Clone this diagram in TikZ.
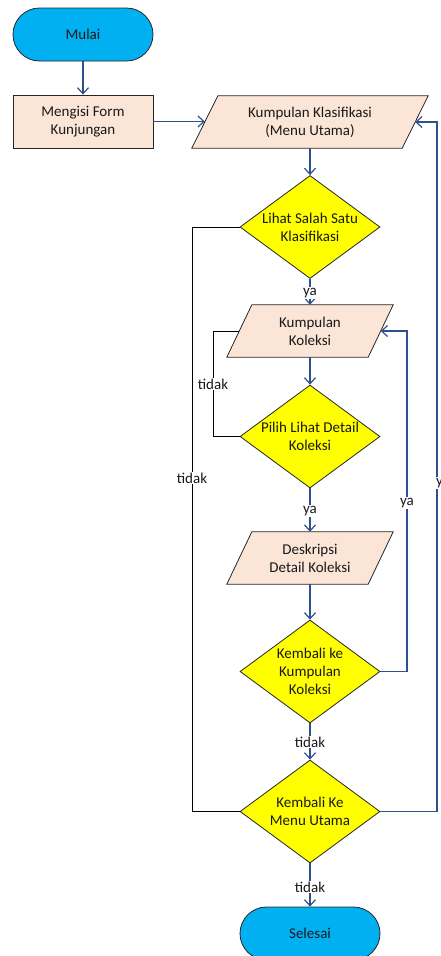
\documentclass[tikz,border=0pt]{standalone}
\usepackage{fontspec}
\setmainfont{Carlito}
\usetikzlibrary{arrows.meta,shapes.geometric,calc,backgrounds}
\definecolor{cyanfill}{HTML}{00B0F0}
\definecolor{peach}{HTML}{FBE5D6}
\definecolor{dyellow}{HTML}{FFFF00}
\definecolor{conncol}{HTML}{2F528F}
\definecolor{edgecol}{HTML}{262626}
\begin{document}
\begin{tikzpicture}[x=1pt,y=-1pt,
  every node/.style={font=\fontsize{15}{18}\selectfont, text=black!90},
  term/.style={rectangle, rounded corners=26.5pt, draw=edgecol, line width=0.8pt, fill=cyanfill, minimum width=140pt, minimum height=53pt, inner sep=0},
  proc/.style={rectangle, draw=edgecol, line width=0.8pt, fill=peach, minimum width=140pt, minimum height=53pt, align=center, inner sep=0},
  pgbox/.style={rectangle, minimum width=#1, minimum height=52pt, inner sep=0, align=center},
  pgshape/.style={draw=edgecol, line width=0.8pt, fill=peach},
  dec/.style={diamond, draw=edgecol, line width=0.8pt, fill=dyellow, minimum width=140pt, minimum height=103pt, inner sep=0},
  dtext/.style={align=center, inner sep=0},
  conn/.style={draw=conncol, line width=1.2pt, -{Straight Barb[length=6pt,width=11pt]}},
  noline/.style={draw=black, line width=1pt},
  lbl/.style={fill=white, inner sep=1pt}
]
\useasboundingbox (0,0) rectangle (441,956);

% shapes
\node[term] (start) at (83,34.5) {Mulai};
\node[proc] (form) at (83,121.5) {Mengisi Form\\Kunjungan};
\node[pgbox=210pt] (p1) at (310,122) {Kumpulan Klasifikasi\\(Menu Utama)};
\node[dec] (d1) at (310,227) {};
\node[dtext] (d1t) at (310,227) {Lihat Salah Satu\\Klasifikasi};
\node[pgbox=141pt] (p2) at (310,331) {Kumpulan\\Koleksi};
\node[dec] (d2) at (310,436.5) {};
\node[dtext] (d2t) at (310,436.5) {Pilih Lihat Detail\\Koleksi};
\node[pgbox=141pt] (p3) at (310,558) {Deskripsi\\Detail Koleksi};
\node[dec] (d3) at (310,671.5) {};
\node[dtext] (d3t) at (310,671.5) {Kembali ke\\Kumpulan\\Koleksi};
\node[dec] (d4) at (310,811.5) {};
\node[dtext] (d4t) at (310,811.5) {Kembali Ke\\Menu Utama};
\node[term] (end) at (310,933.5) {Selesai};

\begin{pgfonlayer}{background}
\foreach \n/\s in {p1/13, p2/12.5, p3/12.5}
  \draw[pgshape] ($(\n.north west)+(\s,0)$) -- ($(\n.north east)+(\s,0)$) -- ($(\n.south east)+(-\s,0)$) -- ($(\n.south west)+(-\s,0)$) -- cycle;
\end{pgfonlayer}

% routing coordinates
\coordinate (lx1) at (192,0);
\coordinate (lx2) at (213,0);
\coordinate (rx2) at (407,0);
\coordinate (rx1) at (437,0);

% connectors
\draw[conn] (start) -- (form);
\draw[conn] (form.east) -- (form.east -| p1.west);
\draw[conn] (p1) -- (d1);
\draw[conn] (d1) -- (p2);
\draw[conn] (p2) -- (d2);
\draw[conn] (d2) -- (p3);
\draw[conn] (p3) -- (d3);
\draw[conn] (d3) -- (d4);
\draw[conn] (d4) -- (end);
\draw[conn] (d3.east) -- (d3.east -| rx2) -- (p2.east -| rx2) -- (p2.east);
\draw[conn] (d4.east) -- (d4.east -| rx1) -- (p1.east -| rx1) -- (p1.east);
\draw[noline] (d2.west) -- (d2.west -| lx2) -- (p2.west -| lx2) -- (p2.west);
\draw[noline] (d1.west) -- (d1.west -| lx1) -- (d4.west -| lx1) -- (d4.west);

% labels
\node[lbl] (l1) at (310,293) {ya};
\node[lbl] (l2) at (213,384) {tidak};
\node[lbl] (l3) at (310,511) {ya};
\node[lbl] (l4) at (407,503) {ya};
\node[lbl] (l5) at (192,478) {tidak};
\node[lbl] (l6) at (310,742) {tidak};
\node[lbl] (l7) at (443,483) {ya};
\node[lbl] (l8) at (310,887) {tidak};
\end{tikzpicture}
\end{document}
